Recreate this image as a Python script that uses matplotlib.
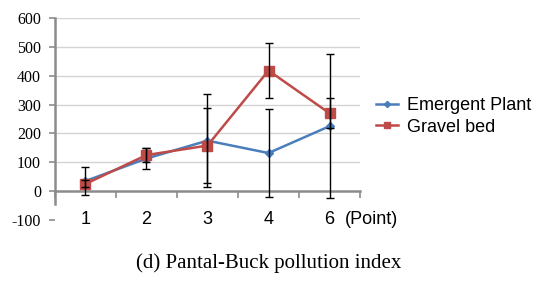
import matplotlib.pyplot as plt

plt.rcParams["axes.unicode_minus"] = False

points = ["1", "2", "3", "4", "6"]
emergent = [35, 113, 175, 132, 225]
emergent_err = [47, 35, 160, 152, 250]
gravel = [25, 125, 158, 418, 270]
gravel_err = [12, 25, 130, 94, 52]

fig = plt.figure(figsize=(5.37, 2.82), dpi=100)
ax = fig.add_axes([0.1024, 0.22, 0.568, 0.716])
x = list(range(len(points)))

# gridlines
for v in range(100, 601, 100):
    ax.axhline(v, color="#d4d4d4", lw=1, zorder=0)

ax.plot(x, emergent, color="#4a7ebb", lw=1.8, marker="D", ms=4.5, label="Emergent Plant", zorder=3)
ax.plot(x, gravel, color="#be4b48", lw=1.8, marker="s", ms=7, label="Gravel bed", zorder=3)
ax.errorbar(x, emergent, yerr=emergent_err, fmt="none", ecolor="black", elinewidth=1, capsize=3, zorder=4)
ax.errorbar(x, gravel, yerr=gravel_err, fmt="none", ecolor="black", elinewidth=1, capsize=3, zorder=4)

ax.set_xlim(-0.5, len(points) - 0.5)
ax.set_ylim(-100, 600)

for s in ["top", "right"]:
    ax.spines[s].set_visible(False)
ax.spines["bottom"].set_position(("data", 0))
ax.spines["bottom"].set_color("#8c8c8c")
ax.spines["bottom"].set_linewidth(1.8)
ax.spines["left"].set_color("#8c8c8c")
ax.spines["left"].set_linewidth(1.8)
ax.spines["left"].set_bounds(-45, 600)

ax.set_yticks(range(-100, 601, 100))
ax.tick_params(axis="y", length=4, color="#8c8c8c", width=1.2, labelsize=11.5, pad=6)
for lab in ax.get_yticklabels():
    lab.set_fontfamily("Liberation Serif")

# category boundaries as tick marks, labels placed at the bottom
ax.set_xticks([i - 0.5 for i in range(len(points) + 1)])
ax.set_xticklabels([])
ax.tick_params(axis="x", direction="out", length=5, color="#8c8c8c", width=1.2)
for i, p in enumerate(points):
    ax.text(i, -100, p, ha="center", va="center", fontsize=13, family="Liberation Sans")
ax.text(4.25, -100, "(Point)", ha="left", va="center", fontsize=13, family="Liberation Sans")

leg = fig.legend(loc="upper left", bbox_to_anchor=(0.700, 0.656), frameon=False,
                 prop={"family": "Liberation Sans", "size": 13}, handlelength=1.2,
                 handletextpad=0.5, labelspacing=0.25, markerscale=0.7,
                 borderpad=0, borderaxespad=0)

fig.text(0.5, 0.067, "(d) Pantal-Buck pollution index", ha="center", va="center",
         fontsize=15, family="Liberation Serif")

fig.savefig("out.png", dpi=100)
